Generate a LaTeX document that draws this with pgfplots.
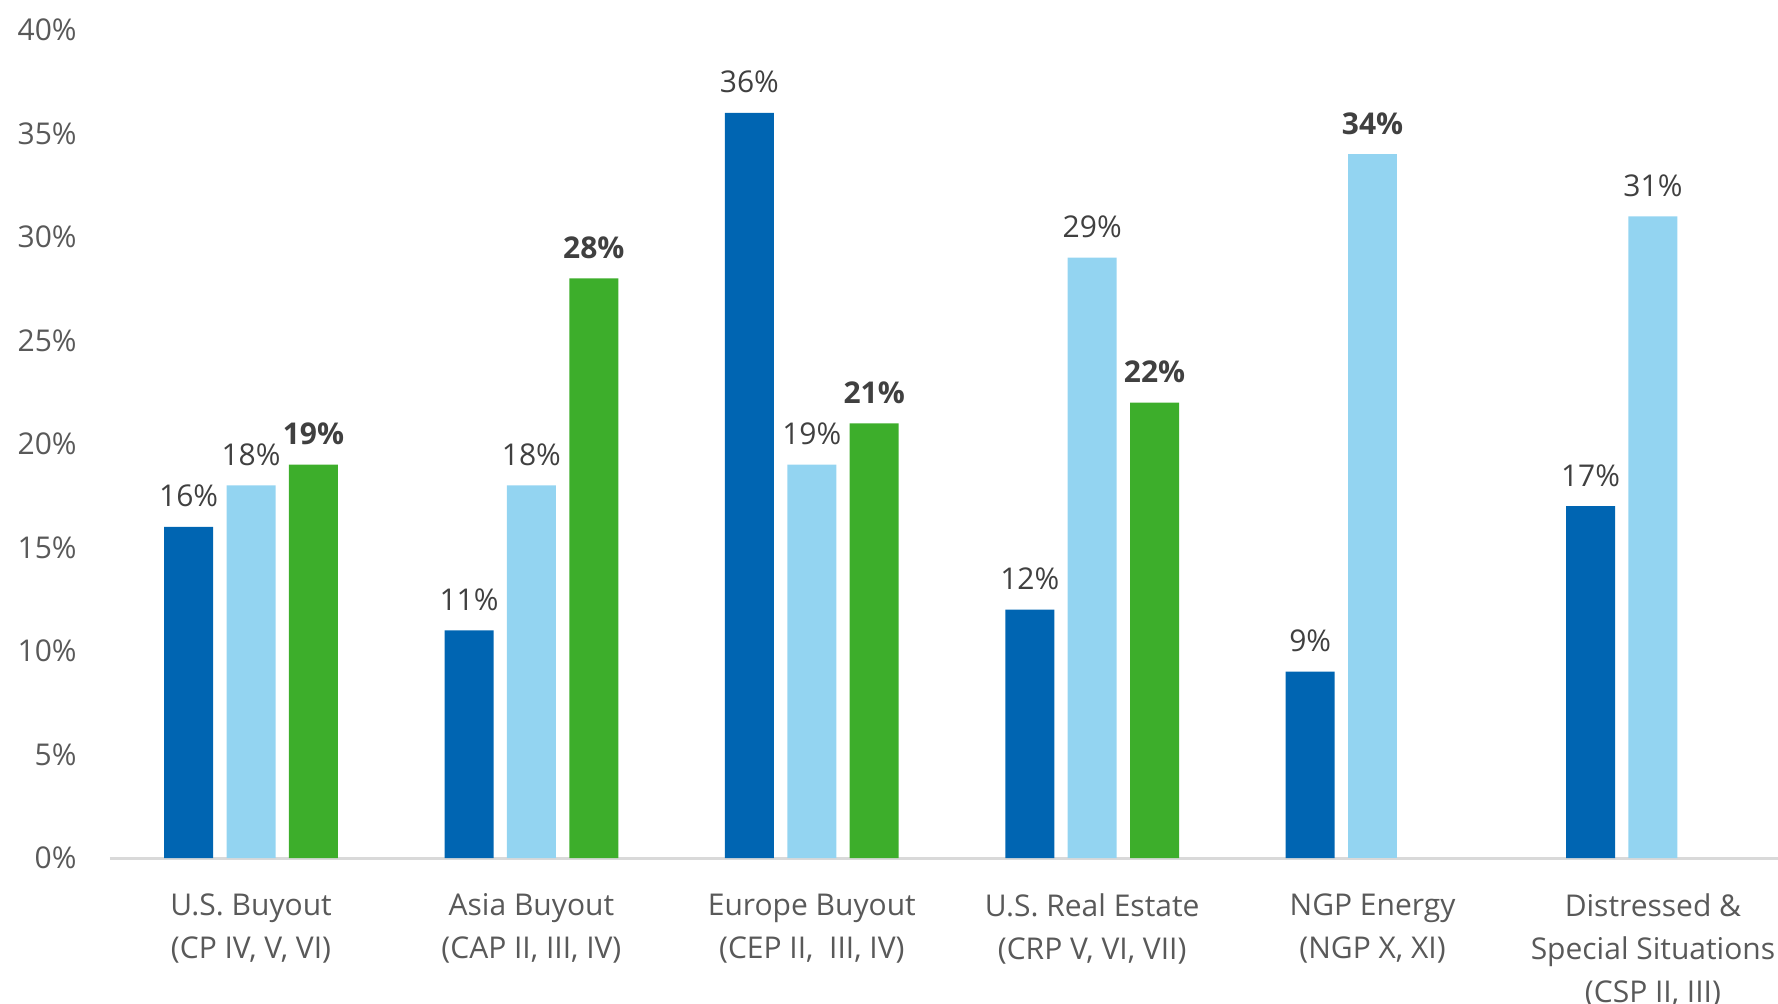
\documentclass[border=0pt]{standalone}
\usepackage{fontspec}
\setmainfont{Open Sans}
\usepackage{pgfplots}
\pgfplotsset{compat=1.18}

\definecolor{darkblue}{HTML}{0065B2}
\definecolor{lightblue}{HTML}{93D4F1}
\definecolor{green}{HTML}{3DAE2B}
\definecolor{ticktext}{HTML}{595959}
\definecolor{valtext}{HTML}{404040}
\definecolor{axisgrey}{HTML}{D9D9D9}

\begin{document}
\begin{tikzpicture}
\useasboundingbox (-55pt,-72.5pt) rectangle (834pt,429pt);
\begin{axis}[
    scale only axis,
    width=834pt, height=414pt,
    ybar, bar width=24.5pt,
    xmin=-0.503, xmax=5.446,
    ymin=0, ymax=40,
    ytick={0,5,...,40},
    yticklabel={\pgfmathprintnumber{\tick}\%},
    /pgf/number format/assume math mode=true,
    xtick={0,1,2,3,4,5},
    xticklabels={{U.S. Buyout\\(CP IV, V, VI)},
                 {Asia Buyout\\(CAP II, III, IV)},
                 {Europe Buyout\\(CEP II,\ \ III, IV)},
                 {U.S. Real Estate\\(CRP V, VI, VII)},
                 {NGP Energy\\(NGP X, XI)},
                 {Distressed \&\\Special Situations\\(CSP II, III)}},
    axis lines*=left,
    x axis line style={draw=axisgrey, line width=1.5pt},
    y axis line style={draw=none},
    tick style={draw=none},
    xticklabel style={anchor=north, inner sep=0pt, yshift=-13.5pt, align=center,
        font=\fontsize{15}{21.5}\selectfont, text=ticktext},
    yticklabel style={anchor=east, inner sep=0pt, xshift=-16.5pt,
        font=\fontsize{15}{18}\selectfont, text=ticktext},
    nodes near coords={\pgfmathprintnumber[fixed,precision=0]{\pgfplotspointmeta}\%},
    nodes near coords style={anchor=south, inner sep=0pt, yshift=9.7pt,
        font=\fontsize{15}{18}\selectfont, text=valtext},
    clip=false,
]
\addplot[fill=darkblue, draw=none, bar shift=-31.2pt]
    coordinates {(0,16) (1,11) (2,36) (3,12) (4,9) (5,17)};
\addplot[fill=lightblue, draw=none, bar shift=0pt]
    coordinates {(0,18) (1,18) (2,19) (3,29) (5,31)};
\addplot[fill=lightblue, draw=none, bar shift=0pt,
    nodes near coords style={font=\fontsize{15}{18}\selectfont\bfseries}]
    coordinates {(4,34)};
\addplot[fill=green, draw=none, bar shift=31.2pt,
    nodes near coords style={font=\fontsize{15}{18}\selectfont\bfseries}]
    coordinates {(0,19) (1,28) (2,21) (3,22)};
\end{axis}
\end{tikzpicture}
\end{document}
